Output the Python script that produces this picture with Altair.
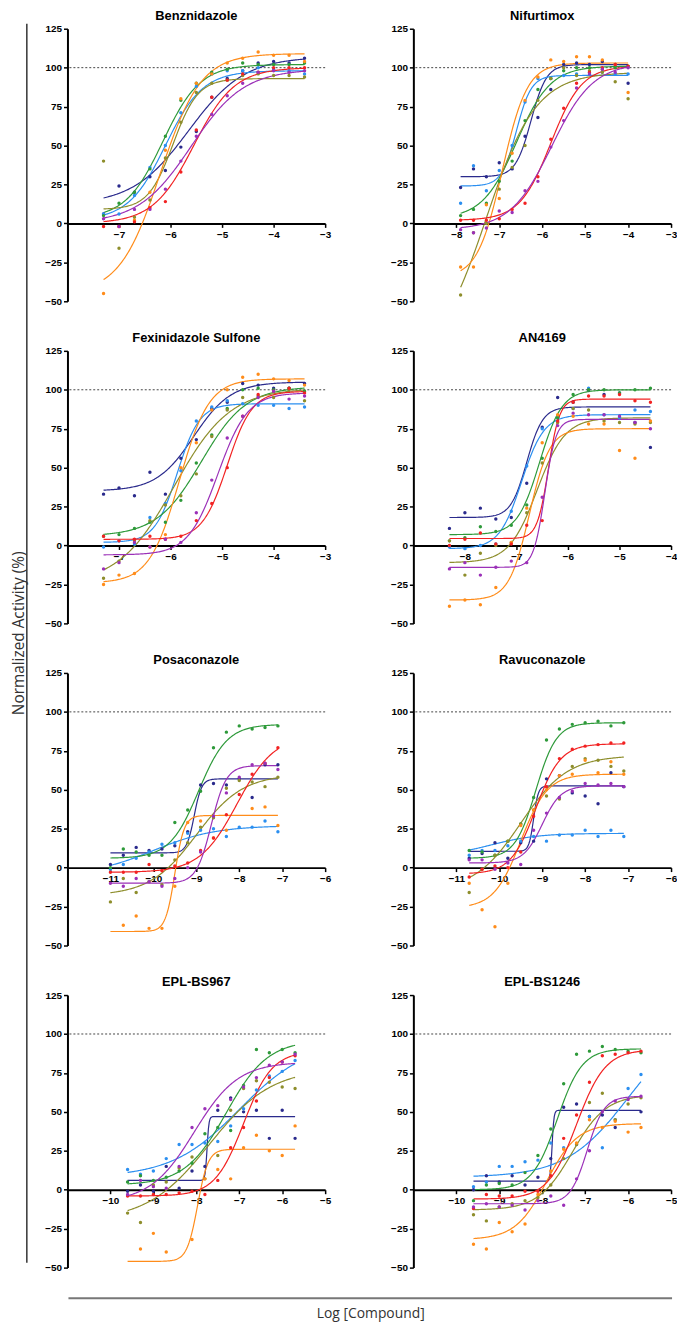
import altair as alt
import pandas as pd
import numpy as np

SERIES = ["navy", "lightblue", "green", "olive", "orange", "red", "purple"]
COLORS = ["#2a2a8c", "#2b8ff0", "#2e9a3a", "#8e8e2c", "#ff8c1a", "#f22222", "#9b30b8"]

# ---------------- Benznidazole ----------------
benz_x = [-7.3, -7.0, -6.7, -6.4, -6.1, -5.8, -5.5, -5.2, -4.9, -4.6, -4.3, -4.0, -3.7, -3.4]
benz_y = dict(
    navy=[6, 24, 20, 30, 34, 49, 59, 81, 93, 98, 103, 104, 103, 106],
    lightblue=[6, 6, 18, 36, 50, 71, 88, 96, 98, 98, 100, 99, 98, 96],
    green=[5, 13, 20, 35, 56, 79, 90, 97, 99, 103, 102, 102, 102, 103],
    olive=[40, -16, 4, 15, 42, 65, 84, 90, 92, 95, 96, 95, 95, 94],
    orange=[-45, -2, 2, 20, 47, 80, 90, 96, 103, 106, 110, 108, 108, 104],
    red=[-2, -2, 1, 10, 14, 33, 60, 81, 92, 96, 97, 100, 100, 100],
    purple=[3, -2, 9, 9, 22, 40, 56, 70, 82, 90, 97, 98, 97, 98],
)
# fitted curves: (bottom, top, logEC50, hill)
benz_fit = dict(
    navy=(12, 107, -5.65, 0.8), lightblue=(2, 98, -6.1, 1.2), green=(3, 102, -6.15, 1.2),
    olive=(9, 93, -5.95, 1.8), orange=(-45, 109, -6.2, 1.1), red=(0, 100, -5.55, 1.1),
    purple=(0, 99, -5.6, 0.85),
)

# ---------------- Nifurtimox ----------------
nif_x = [-7.9, -7.6, -7.3, -7.0, -6.7, -6.4, -6.1, -5.8, -5.5, -5.2, -4.9, -4.6, -4.3, -4.0]
nif_y = dict(
    navy=[23, 35, 30, 39, 35, 56, 68, 86, 102, 103, 102, 104, 102, 90],
    lightblue=[13, 37, 21, 34, 50, 78, 93, 93, 95, 96, 97, 97, 96, 96],
    green=[5, 9, 13, 27, 40, 66, 86, 93, 98, 100, 100, 99, 100, 101],
    olive=[-46, -6, 0, 22, 36, 50, 79, 93, 100, 95, 98, 97, 91, 80],
    orange=[-28, -28, 12, 16, 45, 79, 94, 105, 104, 107, 107, 105, 102, 84],
    red=[2, 2, 2, 3, 9, 13, 30, 54, 74, 90, 97, 100, 102, 101],
    purple=[-4, -6, -3, 8, 7, 21, 27, 49, 66, 87, 96, 99, 97, 100],
)
nif_fit = dict(
    navy=(30, 102, -6.26, 2.4), lightblue=(24, 95, -6.6, 2.5), green=(3, 101, -6.6, 1.1),
    olive=(-90, 97, -7.3, 0.75), orange=(-35, 103, -6.93, 1.5), red=(2, 101, -5.8, 1.2),
    purple=(-4, 103, -5.78, 0.9),
)

# ---------------- Fexinidazole Sulfone ----------------
fex_x = [-7.3, -7.0, -6.7, -6.4, -6.1, -5.8, -5.5, -5.2, -4.9, -4.6, -4.3, -4.0, -3.7, -3.4]
fex_y = dict(
    navy=[33, 37, 32, 47, 33, 56, 68, 88, 92, 104, 103, 101, 101, 104],
    lightblue=[-1, 3, 1, 18, 27, 48, 80, 89, 93, 91, 90, 90, 88, 89],
    green=[6, 7, 11, 15, 15, 29, 53, 71, 88, 100, 101, 100, 101, 99],
    olive=[-21, -10, 3, 16, 26, 32, 46, 70, 87, 95, 96, 95, 100, 93],
    orange=[-25, -19, -18, -1, 7, 50, 66, 87, 100, 108, 110, 107, 106, 103],
    red=[6, 3, 4, 6, 4, 6, 16, 27, 50, 83, 97, 99, 101, 98],
    purple=[-15, -11, 2, -1, 4, 2, 21, 42, 69, 83, 95, 99, 94, 96],
)
fex_fit = dict(
    navy=(35, 105, -5.55, 1.2), lightblue=(2, 91, -5.87, 2.0), green=(6, 102, -5.4, 1.0),
    olive=(-25, 101, -5.93, 0.8), orange=(-24, 107, -5.83, 1.5), red=(4, 99, -4.9, 1.8),
    purple=(-6, 98, -5.08, 1.5),
)

# ---------------- AN4169 ----------------
an_x = [-8.3, -8.0, -7.7, -7.4, -7.1, -6.8, -6.5, -6.2, -5.9, -5.6, -5.3, -5.0, -4.7, -4.4]
an_y = dict(
    navy=[11, 21, 24, 17, 18, 40, 76, 95, 92, 100, 97, 98, 79, 63],
    lightblue=[-1, -2, 0, 1, 22, 51, 75, 82, 88, 101, 84, 82, 87, 86],
    green=[3, 5, 12, 9, 13, 26, 56, 82, 97, 100, 100, 98, 100, 101],
    olive=[3, -19, -5, 0, 2, 21, 53, 79, 88, 87, 80, 79, 78, 79],
    orange=[-39, -35, -38, -27, 2, 24, 66, 84, 83, 78, 78, 61, 56, 80],
    red=[0, 4, 8, 1, 1, 13, 16, 80, 92, 96, 96, 97, 93, 92],
    purple=[-15, -11, -19, -14, -10, -11, 31, 77, 85, 84, 84, 83, 79, 75],
)
an_fit = dict(
    navy=(18, 89, -6.8, 2.8), lightblue=(-2, 84, -6.9, 2.0), green=(7, 100, -6.55, 2.0),
    olive=(-11, 82, -6.6, 1.6), orange=(-35, 75, -6.75, 2.2), red=(4.5, 94, -6.38, 4.0),
    purple=(-14, 81, -6.45, 4.0),
)

# ---------------- Posaconazole ----------------
pos_x = [-11.0, -10.7, -10.4, -10.1, -9.8, -9.5, -9.2, -8.9, -8.6, -8.3, -8.0, -7.7, -7.4, -7.1]
pos_y = dict(
    navy=[2, 8, 13, 11, 12, 14, 23, 53, 54, 53, 57, 45, 66, 66],
    lightblue=[-1, 2, 6, 10, 15, 16, 22, 24, 25, 20, 26, 26, 30, 23],
    green=[0, 12, 10, 8, 8, 29, 37, 49, 77, 87, 91, 89, 90, 91],
    olive=[-22, -7, -16, -9, -11, 5, 16, 26, 32, 51, 56, 55, 52, 58],
    orange=[None, -37, -31, -39, -39, -12, 29, 30, 19, 24, None, 38, 39, 27],
    red=[-3, -3, -3, 2, -2, 1, 3, 11, 19, 34, 47, 60, 67, 77],
    purple=[-10, -12, -7, -9, -12, -7, 0, 10, 33, 48, 58, 66, 67, 63],
)
pos_fit = dict(
    navy=(9.5, 57, -9.05, 5.0), lightblue=(-5, 27, -10.0, 0.6), green=(6, 92, -8.95, 1.3),
    olive=(-18, 60, -9.0, 0.8), orange=(-41, 33.5, -9.5, 4.0), red=(-3, 85, -8.05, 1.0),
    purple=(-10, 65.5, -8.65, 2.5),
)

# ---------------- Ravuconazole ----------------
rav_x = [-10.7, -10.4, -10.1, -9.8, -9.5, -9.2, -8.9, -8.6, -8.3, -8.0, -7.7, -7.4, -7.1]
rav_y = dict(
    navy=[6, 9, 16, 6, 16, 17, 57, 59, 48, 46, 41, 61, 52],
    lightblue=[8, 11, 11, 14, 17, 20, 17, 21, 21, 24, 20, 24, 20],
    green=[11, 10, 8, 17, 28, 45, 82, 89, 92, 93, 94, 91, 93],
    olive=[-16, -1, 8, 17, 28, 37, 46, 44, 65, 70, 69, 65, 62],
    orange=[-10, -27, -38, -10, 27, 37, 50, 59, 60, 69, 61, 68, 60],
    red=[-6, -1, 1, 0, 10, 33, 52, 70, 76, 78, 79, 80, 80],
    purple=[5, 5, -1, 3, 2, 24, 35, 45, 49, 54, 53, 54, 52],
)
rav_fit = dict(
    navy=(10.5, 52.5, -9.2, 8.0), lightblue=(7, 22, -10.2, 0.8), green=(6, 93, -9.15, 1.8),
    olive=(-15, 72, -9.5, 0.8), orange=(-26, 60, -9.5, 1.4), red=(-4, 79.5, -9.15, 1.5),
    purple=(3, 52.5, -9.0, 2.0),
)

# ---------------- EPL-BS967 ----------------
e967_x = [-9.6, -9.3, -9.0, -8.7, -8.4, -8.1, -7.8, -7.5, -7.2, -6.9, -6.6, -6.3, -6.0, -5.7]
e967_y = dict(
    navy=[-1, 3, -1, 15, 1, 12, 15, 51, 59, 50, 51, 33, 51, 33],
    lightblue=[13, 10, 12, 20, 29, 29, 30, 31, 41, 52, 64, 73, 76, 83],
    green=[5, 9, 6, 8, 12, 17, 36, 40, 38, 67, 90, 88, 90, 88],
    olive=[-15, -21, 3, 5, 14, 21, 7, 22, 51, 65, 70, 69, 66, 65],
    orange=[None, -38, -28, -40, None, -32, 7, 13, 7, 27, 35, 25, 22, 41],
    red=[-4, -4, -3, -3, -2, -1, -3, 6, 27, 40, 57, 72, 82, 86],
    purple=[-3, 6, 2, 1, 15, 40, 52, 54, 58, 66, 72, 80, 82, 87],
)
e967_fit = dict(
    navy=(6, 47, -7.75, 20.0), lightblue=(8, 95, -7.0, 0.55), green=(3, 96, -7.3, 0.9),
    olive=(-20, 78, -7.7, 0.6), orange=(-46, 26, -7.97, 3.5), red=(-4, 89, -6.9, 1.3),
    purple=(-8, 82, -8.05, 0.85),
)

# ---------------- EPL-BS1246 ----------------
e1246_x = [-9.6, -9.3, -9.0, -8.7, -8.4, -8.1, -7.8, -7.5, -7.2, -6.9, -6.6, -6.3, -6.0, -5.7]
e1246_y = dict(
    navy=[0, 9, 5, 9, 3, 8, 20, 53, 55, 47, 48, 40, None, 50],
    lightblue=[2, 5, 15, 15, 18, 19, 30, 27, 29, 47, 27, 45, 65, 74],
    green=[-7, 3, 4, 3, 11, 22, 39, 68, 87, 89, 92, 90, 89, 88],
    olive=[-16, -20, -11, -9, -7, -5, 3, 20, 29, 56, 62, 45, 55, 59],
    orange=[-35, -38, -21, -27, -22, -3, 12, 26, 30, 45, 40, 44, 37, 40],
    red=[-12, -3, -4, -4, -1, -1, 9, 33, 48, 69, 86, 87, 88, 89],
    purple=[-11, -9, -11, -10, -13, -7, -4, -10, 7, 25, 50, 57, 58, 60],
)
e1246_fit = dict(
    navy=(5.5, 51, -7.77, 20.0), lightblue=(8, 110, -6.0, 0.6), green=(0, 90.5, -7.65, 1.5),
    olive=(-13, 61, -7.3, 1.1), orange=(-32, 42.5, -7.9, 1.2), red=(-6, 90, -7.2, 1.3),
    purple=(-9, 60, -6.95, 2.2),
)

TITLES = ["Benznidazole", "Nifurtimox", "Fexinidazole Sulfone", "AN4169",
          "Posaconazole", "Ravuconazole", "EPL-BS967", "EPL-BS1246"]
X_DOMAINS = [(-8, -3), (-9, -3), (-8, -3), (-9, -4), (-12, -6), (-12, -6), (-11, -5), (-11, -5)]
X_TICKS = [[-7, -6, -5, -4, -3], [-8, -7, -6, -5, -4, -3], [-7, -6, -5, -4, -3],
           [-8, -7, -6, -5, -4], [-11, -10, -9, -8, -7, -6], [-11, -10, -9, -8, -7, -6],
           [-10, -9, -8, -7, -6, -5], [-10, -9, -8, -7, -6, -5]]
Y_TICKS = [-50, -25, 0, 25, 50, 75, 100, 125]
REF_LEVEL = [100]
Y_LABEL = "Normalized Activity (%)"
X_LABEL = "Log [Compound]"

PANEL_DATA = [(benz_x, benz_y, benz_fit), (nif_x, nif_y, nif_fit), (fex_x, fex_y, fex_fit),
              (an_x, an_y, an_fit), (pos_x, pos_y, pos_fit), (rav_x, rav_y, rav_fit),
              (e967_x, e967_y, e967_fit), (e1246_x, e1246_y, e1246_fit)]

W, H = 260, 275
Y_MIN, Y_MAX = -50, 125
ZERO_OFFSET = -(H * (0 - Y_MIN) / (Y_MAX - Y_MIN))

one = pd.DataFrame({"a": [0]})
ref_df = pd.DataFrame({"v": REF_LEVEL})


def panel(idx):
    xs, ys, fits = PANEL_DATA[idx]
    rows = []
    for s in SERIES:
        for xv, yv in zip(xs, ys[s]):
            if yv is not None:
                rows.append({"x": xv, "y": yv, "s": s})
    pts = pd.DataFrame(rows)
    crows = []
    grid = np.linspace(xs[0], xs[-1], 200)
    for s in SERIES:
        b, t, e, h = fits[s]
        vals = b + (t - b) / (1 + 10 ** ((e - grid) * h))
        for gx, gy in zip(grid, vals):
            crows.append({"x": float(gx), "y": float(gy), "s": s})
    crv = pd.DataFrame(crows)

    xsc = alt.Scale(domain=list(X_DOMAINS[idx]), nice=False, zero=False)
    ysc = alt.Scale(domain=[Y_MIN, Y_MAX], nice=False, zero=False)
    xaxis = alt.Axis(values=X_TICKS[idx], offset=ZERO_OFFSET, title=None, format="d",
                     labelPadding=2, labelFlush=False, labelOverlap=False)
    yaxis = alt.Axis(values=Y_TICKS, title=None, labelPadding=2, labelOverlap=False,
                     labelFlush=False, format="d")
    color = alt.Color("s:N", scale=alt.Scale(domain=SERIES, range=COLORS), legend=None)

    ref = alt.Chart(ref_df).mark_rule(strokeDash=[2, 2], color="#444444", strokeWidth=1).encode(
        y=alt.Y("v:Q", scale=ysc, axis=yaxis))
    lines = alt.Chart(crv).mark_line(strokeWidth=1.2).encode(
        x=alt.X("x:Q", scale=xsc, axis=xaxis),
        y=alt.Y("y:Q", scale=ysc, axis=yaxis),
        color=color, detail="s:N")
    points = alt.Chart(pts).mark_circle(size=12, opacity=1).encode(
        x=alt.X("x:Q", scale=xsc, axis=xaxis),
        y=alt.Y("y:Q", scale=ysc, axis=yaxis),
        color=color)
    title = alt.Chart(one).mark_text(font="Liberation Sans", fontSize=13, fontWeight="bold",
                                     color="black", baseline="top").encode(
        x=alt.value(W / 2), y=alt.value(-19), text=alt.value(TITLES[idx]))
    layers = [ref, lines, points, title]
    if idx == 0:
        layers.append(alt.Chart(one).mark_rule(color="#333333", strokeWidth=1.5).encode(
            x=alt.value(-41), y=alt.value(-5), y2=alt.value(1245)))
        layers.append(alt.Chart(one).mark_text(angle=270, font="Open Sans", fontSize=15.5,
                                               color="#333333", baseline="middle").encode(
            x=alt.value(-49), y=alt.value(610), text=alt.value(Y_LABEL)))
    if idx == 6:
        layers.append(alt.Chart(one).mark_rule(color="#777777", strokeWidth=2).encode(
            x=alt.value(1), x2=alt.value(610), y=alt.value(306)))
        layers.append(alt.Chart(one).mark_text(font="Open Sans", fontSize=14,
                                               color="#333333", baseline="middle").encode(
            x=alt.value(306), y=alt.value(322), text=alt.value(X_LABEL)))
    return alt.layer(*layers).properties(width=W, height=H)


chart = alt.concat(*[panel(i) for i in range(8)], columns=2,
                   spacing=alt.RowColnumber(row=50, column=89),
                   bounds="flush").properties(
    padding={"left": 4, "top": -4, "right": 0, "bottom": 0}).configure_view(
    stroke=None).configure_axis(
    grid=False, domainColor="black", domainWidth=2, tickColor="black", tickWidth=1.5,
    tickSize=4, labelFont="Liberation Sans", labelFontWeight="bold", labelFontSize=10,
    labelColor="black")

chart.save("out.html", embed_options={"renderer": "svg", "actions": False})
